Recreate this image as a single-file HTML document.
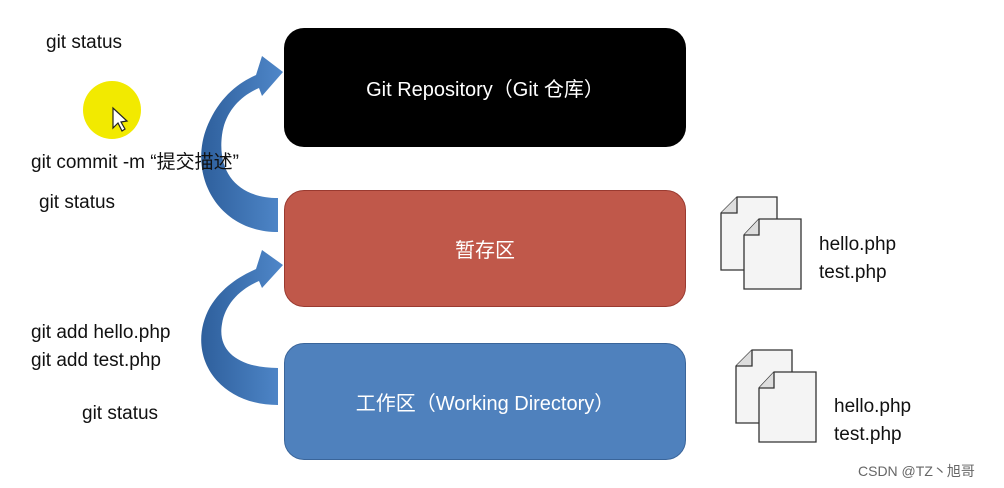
<!DOCTYPE html>
<html><head><meta charset="utf-8"><style>
body{margin:0;width:1004px;height:488px;background:#fff;overflow:hidden;position:relative;font-family:"Liberation Sans","Noto Sans CJK SC",sans-serif}
.t{position:absolute;font-size:19px;color:#111;white-space:nowrap}
.box{position:absolute;left:284px;width:402px;border-radius:20px;color:#fff;font-size:20px;display:flex;align-items:center;justify-content:center}
</style></head><body>
<svg width="1004" height="488" style="position:absolute;left:0;top:0">
<circle cx="112" cy="110" r="29" fill="#f2ea00"/>
<path d="M113,108 L113,128 L118,123 L122,131 L125,129 L121,122 L127,121 Z" fill="#fff" stroke="#222" stroke-width="1.2"/>
<defs><linearGradient id="g" x1="0" y1="0" x2="1" y2="0"><stop offset="0" stop-color="#2e5f9c"/><stop offset="1" stop-color="#4f87c9"/></linearGradient></defs>
<path d="M278,232 C215,232 185,170 210,120 C222,95 240,82 256,75 L262,56 L283,72 L262,96 L259,88 C240,96 225,112 222,135 C217,175 240,198 278,198 Z" fill="url(#g)"/>
<path transform="translate(0,192)" d="M278,213 C215,213 185,160 210,115 C222,95 240,84 256,77 L262,58 L283,73 L262,96 L259,89 C240,97 225,112 222,132 C217,160 240,176 278,176 Z" fill="url(#g)"/>
<g fill="#f4f4f4" stroke="#333" stroke-width="1.3">
<path d="M737,197 L777,197 L777,270 L721,270 L721,213 Z"/><path d="M721,213 L737,213 L737,197" fill="#ddd"/>
<path d="M759,219 L801,219 L801,289 L744,289 L744,235 Z"/><path d="M744,235 L759,235 L759,219" fill="#ddd"/>
<path d="M752,350 L792,350 L792,423 L736,423 L736,366 Z"/><path d="M736,366 L752,366 L752,350" fill="#ddd"/>
<path d="M774,372 L816,372 L816,442 L759,442 L759,388 Z"/><path d="M759,388 L774,388 L774,372" fill="#ddd"/>
</g>
</svg>
<div class="box" style="top:28px;height:119px;background:#000">Git Repository（Git 仓库）</div>
<div class="box" style="top:190px;background:#c0584a;border:1px solid #9a3a30;box-sizing:border-box;height:117px">暂存区</div>
<div class="box" style="top:343px;height:117px;background:#4f81bd;border:1px solid #3a659a;box-sizing:border-box">工作区（Working Directory）</div>
<div class="t" style="left:46px;top:32px">git status</div>
<div class="t" style="left:31px;top:147px">git commit -m “提交描述”</div>
<div class="t" style="left:39px;top:192px">git status</div>
<div class="t" style="left:31px;top:322px">git add hello.php</div>
<div class="t" style="left:31px;top:350px">git add test.php</div>
<div class="t" style="left:82px;top:403px">git status</div>
<div class="t" style="left:819px;top:234px">hello.php</div>
<div class="t" style="left:819px;top:262px">test.php</div>
<div class="t" style="left:834px;top:396px">hello.php</div>
<div class="t" style="left:834px;top:424px">test.php</div>
<div class="t" style="left:858px;top:461px;font-size:14px;color:#666">CSDN @TZ丶旭哥</div>
</body></html>
